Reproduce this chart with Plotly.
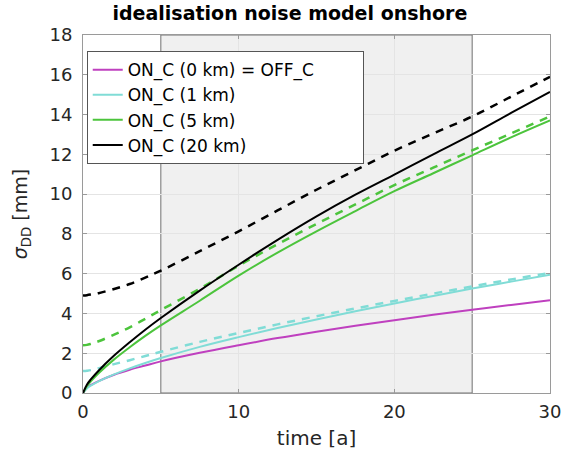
import plotly.graph_objects as go

t = [0, 0.25, 0.5, 1, 2, 3, 4, 5, 7.5, 10, 12.5, 15, 17.5, 20, 22.5, 25, 27.5, 30]

on0_solid = [0, 0.26, 0.40, 0.60, 0.92, 1.17, 1.38, 1.59, 2.02, 2.40, 2.76, 3.08, 3.38, 3.66, 3.93, 4.18, 4.43, 4.66]

on1_solid = [0, 0.23, 0.37, 0.59, 0.94, 1.24, 1.51, 1.76, 2.32, 2.81, 3.27, 3.70, 4.11, 4.50, 4.88, 5.25, 5.60, 5.95]
on1_dash = [1.10, 1.12, 1.15, 1.24, 1.45, 1.65, 1.86, 2.07, 2.57, 3.02, 3.45, 3.86, 4.25, 4.63, 5.00, 5.36, 5.71, 6.04]

on5_solid = [0, 0.34, 0.58, 0.99, 1.69, 2.30, 2.87, 3.40, 4.64, 5.90, 7.06, 8.13, 9.15, 10.15, 11.05, 11.95, 12.85, 13.70]
on5_dash = [2.40, 2.42, 2.47, 2.60, 2.93, 3.30, 3.73, 4.17, 5.24, 6.40, 7.48, 8.50, 9.48, 10.45, 11.33, 12.20, 13.05, 13.91]

on20_solid = [0, 0.42, 0.68, 1.12, 1.88, 2.55, 3.18, 3.77, 5.15, 6.45, 7.70, 8.88, 9.97, 10.98, 12.00, 13.00, 14.08, 15.14]
on20_dash = [4.90, 4.92, 4.95, 5.02, 5.23, 5.48, 5.80, 6.15, 7.13, 8.13, 9.18, 10.22, 11.20, 12.18, 13.05, 13.90, 14.90, 15.90]

names = ["ON_C (0 km) = OFF_C", "ON_C (1 km)", "ON_C (5 km)", "ON_C (20 km)"]
colors = ["#bf40bf", "#80dcd6", "#4cc43c", "#000000"]

shade_range = [5, 25]
xticks = [0, 10, 20, 30]
yticks = [0, 2, 4, 6, 8, 10, 12, 14, 16, 18]

fig = go.Figure()

solids = [on0_solid, on1_solid, on5_solid, on20_solid]
dashes = [None, on1_dash, on5_dash, on20_dash]

for i in range(4):
    if dashes[i] is not None:
        fig.add_trace(go.Scatter(x=t, y=dashes[i], mode="lines", showlegend=False, hoverinfo="skip",
                                 line=dict(color=colors[i], width=2.5, dash="8px,7px", shape="spline")))
for i in range(4):
    label = names[i] + ("&nbsp;" * 8 if i == 0 else "")
    fig.add_trace(go.Scatter(x=t, y=solids[i], mode="lines", name=label,
                             line=dict(color=colors[i], width=2, shape="spline")))

fig.add_shape(type="rect", xref="x", yref="y", x0=shade_range[0], x1=shade_range[1], y0=0, y1=18,
              fillcolor="#f0f0f0", line=dict(color="#707070", width=1), layer="below")

axis_common = dict(showgrid=True, gridcolor="#e4e4e4", gridwidth=1, showline=True, linecolor="#9a9a9a",
                   linewidth=1, mirror="ticks", ticks="inside", ticklen=4, tickcolor="#9a9a9a",
                   zeroline=False, tickfont=dict(size=18, color="#262626"))

fig.update_xaxes(range=[0, 30], tickvals=xticks, ticklabelstandoff=2,
                 title=dict(text="time [a]", font=dict(size=20, color="#262626"), standoff=10),
                 **axis_common)
fig.update_yaxes(range=[0, 18], tickvals=yticks, ticklabelstandoff=6,
                 title=dict(text="<i>σ</i><sub>DD</sub> [mm]", font=dict(size=19, color="#262626"), standoff=16),
                 **axis_common)

fig.update_layout(
    width=573, height=458,
    margin=dict(l=83, r=18, t=35, b=65),
    paper_bgcolor="white", plot_bgcolor="white",
    font=dict(family="DejaVu Sans", color="#262626"),
    title=dict(text="<b>idealisation noise model onshore</b>", x=0.506, xanchor="center", y=0.985, yanchor="top",
               font=dict(size=19, color="#000000")),
    legend=dict(x=0.008, y=0.955, xanchor="left", yanchor="top", bgcolor="white", bordercolor="#555555",
                borderwidth=1, font=dict(size=17, color="#000000"), tracegroupgap=0, itemwidth=30),
)

fig.write_html("out.html")
